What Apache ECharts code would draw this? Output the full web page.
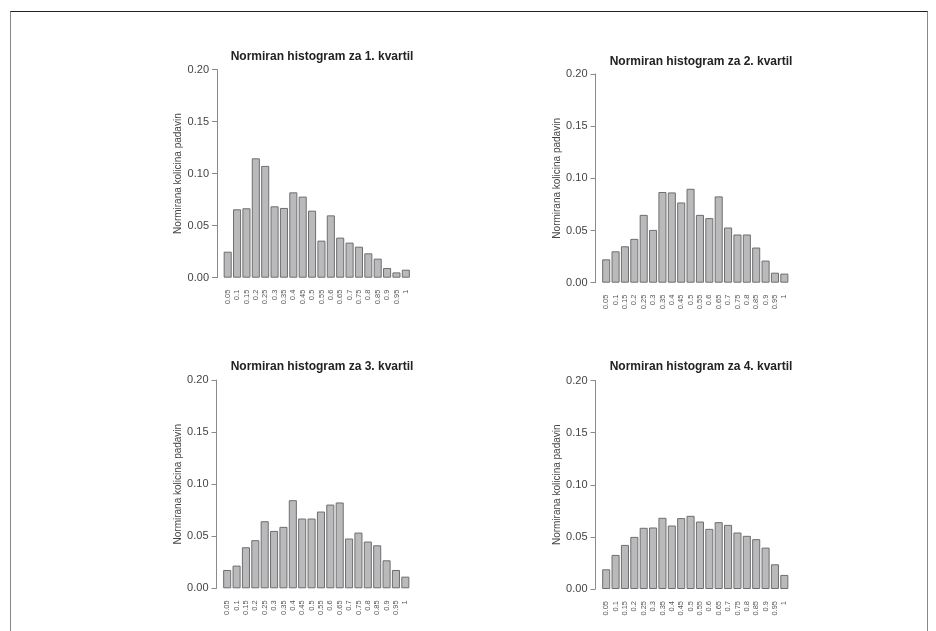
<!DOCTYPE html>
<html>
<head>
<meta charset="utf-8">
<script src="https://cdn.jsdelivr.net/npm/echarts@6/dist/echarts.min.js"></script>
<style>
    html, body { margin: 0; padding: 0; background: #fff; }
    #frame {
        position: absolute; left: 10px; top: 11px; width: 916px; height: 640px;
        border-top: 1px solid #222; border-left: 1px solid #888; border-right: 1px solid #888;
    }
    #chart { position: absolute; left: 0; top: 0; width: 936px; height: 631px; }
</style>
</head>
<body>
<div id="frame"></div>
<div id="chart"></div>
<script>
const categories = ['0.05', '0.1', '0.15', '0.2', '0.25', '0.3', '0.35', '0.4', '0.45', '0.5',
    '0.55', '0.6', '0.65', '0.7', '0.75', '0.8', '0.85', '0.9', '0.95', '1'];

const kvartil1 = [0.025, 0.0657, 0.0667, 0.1147, 0.1074, 0.0686, 0.067, 0.082, 0.0779, 0.0644,
    0.0356, 0.0599, 0.0385, 0.0337, 0.0298, 0.0234, 0.0183, 0.0093, 0.0051, 0.0077];
const kvartil2 = [0.0224, 0.0301, 0.0349, 0.042, 0.065, 0.0506, 0.0869, 0.0865, 0.0769, 0.090,
    0.065, 0.0619, 0.0827, 0.0529, 0.0462, 0.0462, 0.0337, 0.0212, 0.0096, 0.0087];
const kvartil3 = [0.0176, 0.0218, 0.0394, 0.0462, 0.0644, 0.0551, 0.059, 0.0846, 0.067, 0.067,
    0.0737, 0.0804, 0.0824, 0.0478, 0.0535, 0.0449, 0.0413, 0.0269, 0.0176, 0.0112];
const kvartil4 = [0.0189, 0.0327, 0.0423, 0.05, 0.0587, 0.059, 0.0683, 0.0609, 0.068, 0.0702,
    0.0647, 0.0577, 0.0641, 0.0615, 0.0542, 0.051, 0.0478, 0.0397, 0.0237, 0.0135];

const titles = ['Normiran histogram za 1. kvartil', 'Normiran histogram za 2. kvartil',
    'Normiran histogram za 3. kvartil', 'Normiran histogram za 4. kvartil'];
const yName = 'Normirana kolicina padavin';

// layout of each panel: grid box (px) and title position
const panels = [
    { data: kvartil1, left: 223, top: 69.5, width: 187.5, height: 208.2, titleX: 317, titleY: 46 },
    { data: kvartil2, left: 601.5, top: 74, width: 187.5, height: 208.7, titleX: 696, titleY: 51 },
    { data: kvartil3, left: 222.5, top: 380, width: 187.5, height: 208.3, titleX: 317, titleY: 356 },
    { data: kvartil4, left: 601.5, top: 380.5, width: 187.5, height: 208.5, titleX: 696, titleY: 356 }
];

const chart = echarts.init(document.getElementById('chart'), null, { renderer: 'canvas' });

const option = {
    animation: false,
    backgroundColor: 'transparent',
    title: panels.map((p, i) => ({
        text: titles[i],
        left: p.titleX,
        top: p.titleY,
        textAlign: 'center',
        textStyle: { fontFamily: 'Liberation Sans', fontSize: 12, fontWeight: 'bold', color: '#222' }
    })),
    grid: panels.map(p => ({ left: p.left, top: p.top, width: p.width, height: p.height })),
    xAxis: panels.map((p, i) => ({
        type: 'category',
        gridIndex: i,
        data: categories,
        boundaryGap: true,
        axisLine: { show: false },
        axisTick: { show: false },
        axisLabel: {
            rotate: 90,
            interval: 0,
            margin: 12,
            fontSize: 7.5,
            fontFamily: 'Liberation Sans',
            color: '#555'
        }
    })),
    yAxis: panels.map((p, i) => ({
        type: 'value',
        gridIndex: i,
        min: 0,
        max: 0.2,
        interval: 0.05,
        offset: 6,
        name: yName,
        nameLocation: 'middle',
        nameGap: 33,
        nameTextStyle: { fontFamily: 'Liberation Sans', fontSize: 10, color: '#444' },
        splitLine: { show: false },
        axisLine: { show: true, lineStyle: { color: '#8a8a8a', width: 1 } },
        axisTick: { show: true, length: 5, lineStyle: { color: '#8a8a8a' } },
        axisLabel: {
            margin: 8,
            fontSize: 11,
            fontFamily: 'Liberation Sans',
            color: '#444',
            formatter: v => v.toFixed(2)
        }
    })),
    series: panels.map((p, i) => ({
        type: 'bar',
        xAxisIndex: i,
        yAxisIndex: i,
        data: p.data,
        barWidth: '86%',
        itemStyle: { color: '#bababc', borderColor: '#6e6e6e', borderWidth: 1 }
    }))
};

chart.setOption(option);
</script>
</body>
</html>
